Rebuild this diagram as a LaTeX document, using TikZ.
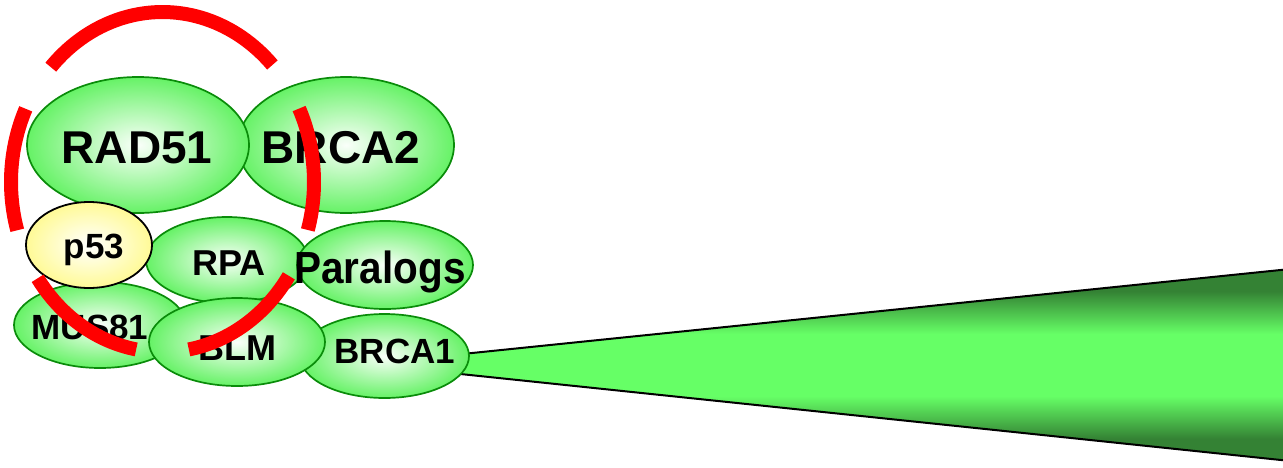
\documentclass[tikz,border=0pt]{standalone}
\usepackage{fontspec}
\usepackage{graphicx}
\setmainfont{Liberation Sans}
\usetikzlibrary{shapes.geometric}
\definecolor{ellout}{RGB}{102,242,102}
\definecolor{ellin}{RGB}{250,255,250}
\definecolor{ellborder}{RGB}{10,140,10}
\definecolor{yout}{RGB}{255,250,150}
\definecolor{cdark}{RGB}{52,130,52}
\definecolor{cbright}{RGB}{102,255,102}
\definecolor{arcred}{RGB}{255,0,0}
\pgfdeclareverticalshading{coneshade}{100bp}{color(0bp)=(cdark); color(31bp)=(cdark); color(42bp)=(cbright); color(58bp)=(cbright); color(69bp)=(cdark); color(100bp)=(cdark)}
\newcommand\labfont[1]{\fontsize{#1}{#1}\selectfont\bfseries}
\begin{document}
\begin{tikzpicture}[x=1pt,y=1pt,
 ell/.style={ellipse, draw=ellborder, line width=1.7pt, inner color=ellin, outer color=ellout, inner sep=0pt},
 yell/.style={ellipse, draw=black, line width=1.8pt, inner color=white, outer color=yout, inner sep=0pt},
 lab/.style={anchor=base, inner sep=0pt},
 ring/.style={draw=arcred, line width=14pt, line cap=butt},
 coneedge/.style={draw=black, line width=2pt}]
\useasboundingbox (0,0) rectangle (1283,-467);
\clip (0,0) rectangle (1283,-467);
% cone
\coordinate (apex) at (365,-364);
\coordinate (ctop) at (1300,-268);
\coordinate (cbot) at (1300,-462);
\shade[shading=coneshade] (apex) -- (ctop) -- (cbot) -- cycle;
\draw[coneedge] (ctop) -- (apex) -- (cbot);
% ellipses
\node[ell, minimum width=216pt, minimum height=136pt] (brca2) at (346,-145) {};
\node[ell, minimum width=222pt, minimum height=136pt] (rad51) at (138,-145) {};
\node[ell, minimum width=162pt, minimum height=86pt] (rpa) at (227,-260) {};
\node[ell, minimum width=176pt, minimum height=88pt] (paralogs) at (385,-265) {};
\node[ell, minimum width=172pt, minimum height=86pt] (mus81) at (100,-325) {};
\node[yell, minimum width=126pt, minimum height=86pt] (p53) at (89,-245) {};
\node[ell, minimum width=169pt, minimum height=84pt] (brca1) at (384.5,-356) {};
\node[ell, minimum width=176pt, minimum height=88pt] (blm) at (237,-342) {};
% labels
\node[lab, font=\labfont{46}] (rad51t) at (137,-163) {RAD51};
\node[lab, font=\labfont{46}] (brca2t) at (341,-163) {BRCA2};
\node[lab, font=\labfont{35}] (p53t) at (94,-258) {p53};
\node[lab, font=\labfont{36}] (rpat) at (229,-275) {RPA};
\node[lab, font=\labfont{45}] (paralogst) at (380,-283) {\scalebox{0.9}[1]{Paralogs}};
\node[lab, font=\labfont{35}] (mus81t) at (90,-339) {MUS81};
\node[lab, font=\labfont{36}] (blmt) at (237,-360) {BLM};
\node[lab, font=\labfont{35}] (brca1t) at (395,-363) {BRCA1};
% red dashed ring
\coordinate (rc) at (162.5,-182);
\draw[ring] (rc) ++(43.5:151.5pt and 170pt) arc[start angle=43.5, end angle=137.5, x radius=151.5pt, y radius=170pt];
\draw[ring] (rc) ++(154.5:151.5pt and 170pt) arc[start angle=154.5, end angle=196.5, x radius=151.5pt, y radius=170pt];
\draw[ring] (rc) ++(214.5:151.5pt and 170pt) arc[start angle=214.5, end angle=260, x radius=151.5pt, y radius=170pt];
\draw[ring] (rc) ++(280:151.5pt and 170pt) arc[start angle=280, end angle=326.5, x radius=151.5pt, y radius=170pt];
\draw[ring] (rc) ++(-16.4:151.5pt and 170pt) arc[start angle=-16.4, end angle=25.6, x radius=151.5pt, y radius=170pt];
\end{tikzpicture}
\end{document}
